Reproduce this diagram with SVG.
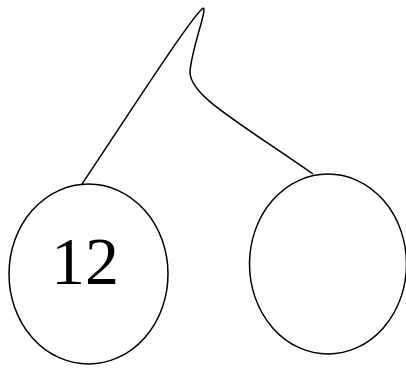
<svg xmlns="http://www.w3.org/2000/svg" width="406" height="369" viewBox="0 0 406 369">
<style>
.node{fill:#fff;stroke:#000;stroke-width:1.5}
.edge{fill:none;stroke:#000;stroke-width:1.5}
.lbl{font-family:"Liberation Serif",serif;font-size:68px;fill:#000}
</style>
<rect width="406" height="369" fill="#fff"/>
<g id="connectors">
<path class="edge" d="M82,184 C130,112 188,22 202,9 C210,2 191,50 190,72 C190,95 232,118 313,174"/>
</g>
<g id="node-left">
<ellipse class="node" cx="88.5" cy="274" rx="79.5" ry="90"/>
<text class="lbl" x="85" y="284" text-anchor="middle">12</text>
</g>
<g id="node-right">
<ellipse class="node" cx="328" cy="264" rx="78.5" ry="90"/>
</g>
</svg>
